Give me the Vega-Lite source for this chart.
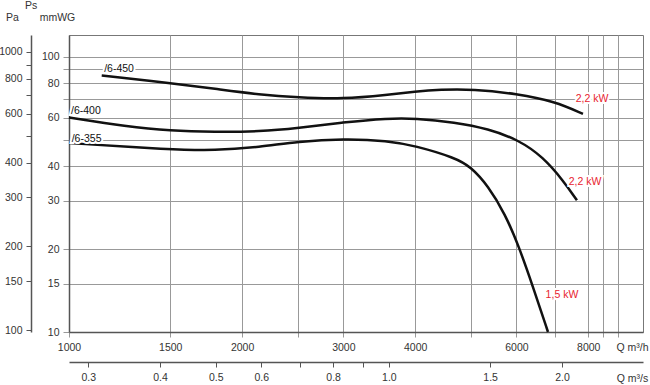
{
  "$schema": "https://vega.github.io/schema/vega-lite/v6.json",
  "width": 574,
  "height": 297,
  "autosize": {"type": "none"},
  "padding": {"left": 69, "top": 35, "right": 7, "bottom": 53},
  "background": "white",
  "config": {
    "font": "Liberation Sans Narrow, Arial Narrow, Liberation Sans, sans-serif",
    "view": {"stroke": "#777", "strokeWidth": 1},
    "axis": {
      "labelFont": "Liberation Sans Narrow, Arial Narrow, Liberation Sans, sans-serif",
      "titleFont": "Liberation Sans Narrow, Arial Narrow, Liberation Sans, sans-serif",
      "labelFontSize": 10.5,
      "titleFontSize": 10.5,
      "titleFontWeight": "normal",
      "labelColor": "#333",
      "titleColor": "#333",
      "domainColor": "#555",
      "domainWidth": 1.5,
      "tickColor": "#888",
      "gridColor": "#999",
      "gridWidth": 1,
      "gridOpacity": 1,
      "labelFlush": false,
      "labelOverlap": false
    }
  },
  "title": {
    "text": "Ps",
    "anchor": "start",
    "frame": "group",
    "dx": -44,
    "offset": 1,
    "fontSize": 10.5,
    "fontWeight": "normal",
    "color": "#333",
    "font": "Liberation Sans Narrow, Arial Narrow, Liberation Sans, sans-serif"
  },
  "datasets": {
    "curves": [
      {"series": "/6-450", "q": 1140, "p": 85.5},
      {"series": "/6-450", "q": 1498, "p": 80.2},
      {"series": "/6-450", "q": 1794, "p": 76.5},
      {"series": "/6-450", "q": 2148, "p": 72.8},
      {"series": "/6-450", "q": 2502, "p": 71.1},
      {"series": "/6-450", "q": 2996, "p": 70.2},
      {"series": "/6-450", "q": 3587, "p": 72.8},
      {"series": "/6-450", "q": 3998, "p": 74.8},
      {"series": "/6-450", "q": 4418, "p": 76.0},
      {"series": "/6-450", "q": 5043, "p": 76.3},
      {"series": "/6-450", "q": 6014, "p": 73.4},
      {"series": "/6-450", "q": 7001, "p": 68.8},
      {"series": "/6-450", "q": 7832, "p": 62.0},
      {"series": "/6-400", "q": 1000, "p": 60.2},
      {"series": "/6-400", "q": 1260, "p": 55.8},
      {"series": "/6-400", "q": 1498, "p": 53.8},
      {"series": "/6-400", "q": 1794, "p": 53.3},
      {"series": "/6-400", "q": 2148, "p": 53.5},
      {"series": "/6-400", "q": 2502, "p": 55.1},
      {"series": "/6-400", "q": 2996, "p": 57.8},
      {"series": "/6-400", "q": 3587, "p": 59.8},
      {"series": "/6-400", "q": 3998, "p": 59.8},
      {"series": "/6-400", "q": 4692, "p": 57.8},
      {"series": "/6-400", "q": 5354, "p": 54.8},
      {"series": "/6-400", "q": 6062, "p": 49.8},
      {"series": "/6-400", "q": 6667, "p": 43.3},
      {"series": "/6-400", "q": 7229, "p": 35.6},
      {"series": "/6-400", "q": 7645, "p": 30.1},
      {"series": "/6-355", "q": 1000, "p": 48.6},
      {"series": "/6-355", "q": 1498, "p": 46.0},
      {"series": "/6-355", "q": 1794, "p": 45.6},
      {"series": "/6-355", "q": 2148, "p": 47.0},
      {"series": "/6-355", "q": 2502, "p": 49.2},
      {"series": "/6-355", "q": 2996, "p": 50.4},
      {"series": "/6-355", "q": 3587, "p": 49.6},
      {"series": "/6-355", "q": 3998, "p": 47.5},
      {"series": "/6-355", "q": 4692, "p": 43.0},
      {"series": "/6-355", "q": 5002, "p": 39.8},
      {"series": "/6-355", "q": 5354, "p": 34.0},
      {"series": "/6-355", "q": 5731, "p": 26.9},
      {"series": "/6-355", "q": 6062, "p": 20.4},
      {"series": "/6-355", "q": 6397, "p": 14.8},
      {"series": "/6-355", "q": 6808, "p": 10.0}
    ],
    "labels": [
      {"label": "/6-450", "kind": "model", "q": 1222, "p": 90},
      {"label": "/6-400", "kind": "model", "q": 1070, "p": 63.3},
      {"label": "/6-355", "kind": "model", "q": 1073, "p": 50.2},
      {"label": "2,2 kW", "kind": "power", "q": 8123, "p": 70},
      {"label": "2,2 kW", "kind": "power", "q": 7895, "p": 35.1},
      {"label": "1,5 kW", "kind": "power", "q": 7200, "p": 13.6}
    ]
  },
  "layer": [
    {
      "encoding": {
        "x": {
          "field": "q",
          "type": "quantitative",
          "scale": {"type": "log", "domain": [1000, 9960]},
          "axis": {
            "orient": "bottom",
            "values": [1000, 1500, 2000, 2500, 3000, 4000, 5000, 6000, 7000, 8000, 8500, 9000],
            "format": "d",
            "labelExpr": "(datum.value==2500||datum.value==5000||datum.value==7000||datum.value==8500||datum.value==9000)?'':datum.label",
            "grid": true,
            "tickSize": 5,
            "tickColor": "#999",
            "labelPadding": 5,
            "title": "Q m³/h",
            "titleX": 563,
            "titleY": 15,
            "titleAlign": "center",
            "titleBaseline": "middle",
            "titleAnchor": null
          }
        },
        "y": {
          "field": "p",
          "type": "quantitative",
          "scale": {"type": "log", "domain": [10, 120]},
          "axis": {
            "orient": "left",
            "values": [10, 15, 20, 30, 40, 50, 60, 70, 80, 90, 100],
            "format": "d",
            "labelExpr": "(datum.value==50||datum.value==70||datum.value==90)?'':datum.label",
            "grid": true,
            "tickSize": 6,
            "tickColor": "#999",
            "labelPadding": 4,
            "title": "mmWG",
            "titleAngle": 0,
            "titleX": -12,
            "titleY": -18,
            "titleAlign": "center",
            "titleBaseline": "middle"
          }
        }
      },
      "layer": [
        {
          "data": {"name": "curves"},
          "mark": {"type": "line", "color": "#111", "strokeWidth": 2.5, "interpolate": "basis"},
          "encoding": {"detail": {"field": "series", "type": "nominal"}}
        },
        {
          "data": {"name": "labels"},
          "mark": {"type": "text", "fontSize": 10.5, "stroke": "white", "strokeWidth": 4, "fill": "white", "align": "center", "baseline": "middle"},
          "encoding": {"text": {"field": "label", "type": "nominal"}}
        },
        {
          "data": {"name": "labels"},
          "mark": {"type": "text", "fontSize": 10.5, "align": "center", "baseline": "middle"},
          "encoding": {
            "text": {"field": "label", "type": "nominal"},
            "color": {"field": "kind", "type": "nominal", "scale": {"domain": ["model", "power"], "range": ["#111111", "#e8232f"]}, "legend": null}
          }
        }
      ]
    },
    {
      "data": {"values": [{"qs": 0.3, "pa": 100}]},
      "mark": {"type": "point", "opacity": 0},
      "encoding": {
        "x": {
          "field": "qs",
          "type": "quantitative",
          "scale": {"type": "log", "domain": [0.27778, 2.76667]},
          "axis": {
            "orient": "bottom",
            "offset": 30,
            "values": [0.3, 0.4, 0.5, 0.6, 0.7, 0.8, 0.9, 1.0, 1.5, 2.0],
            "format": ".1f",
            "labelExpr": "(datum.value==0.7||datum.value==0.9)?'':datum.label",
            "grid": false,
            "tickSize": 5,
            "tickColor": "#555",
            "labelPadding": 5,
            "title": "Q m³/s",
            "titleX": 563,
            "titleY": 16,
            "titleAlign": "center",
            "titleBaseline": "middle"
          }
        },
        "y": {
          "field": "pa",
          "type": "quantitative",
          "scale": {"type": "log", "domain": [98.4, 1151]},
          "axis": {
            "orient": "left",
            "offset": 38,
            "values": [100, 150, 200, 300, 400, 500, 600, 700, 800, 900, 1000],
            "format": "d",
            "labelExpr": "(datum.value==500||datum.value==700||datum.value==900)?'':datum.label",
            "grid": false,
            "tickSize": 5,
            "tickColor": "#555",
            "labelPadding": 4,
            "title": "Pa",
            "titleAngle": 0,
            "titleX": -19,
            "titleY": -18,
            "titleAlign": "center",
            "titleBaseline": "middle"
          }
        }
      }
    }
  ],
  "resolve": {
    "scale": {"x": "independent", "y": "independent"},
    "axis": {"x": "independent", "y": "independent"}
  }
}
